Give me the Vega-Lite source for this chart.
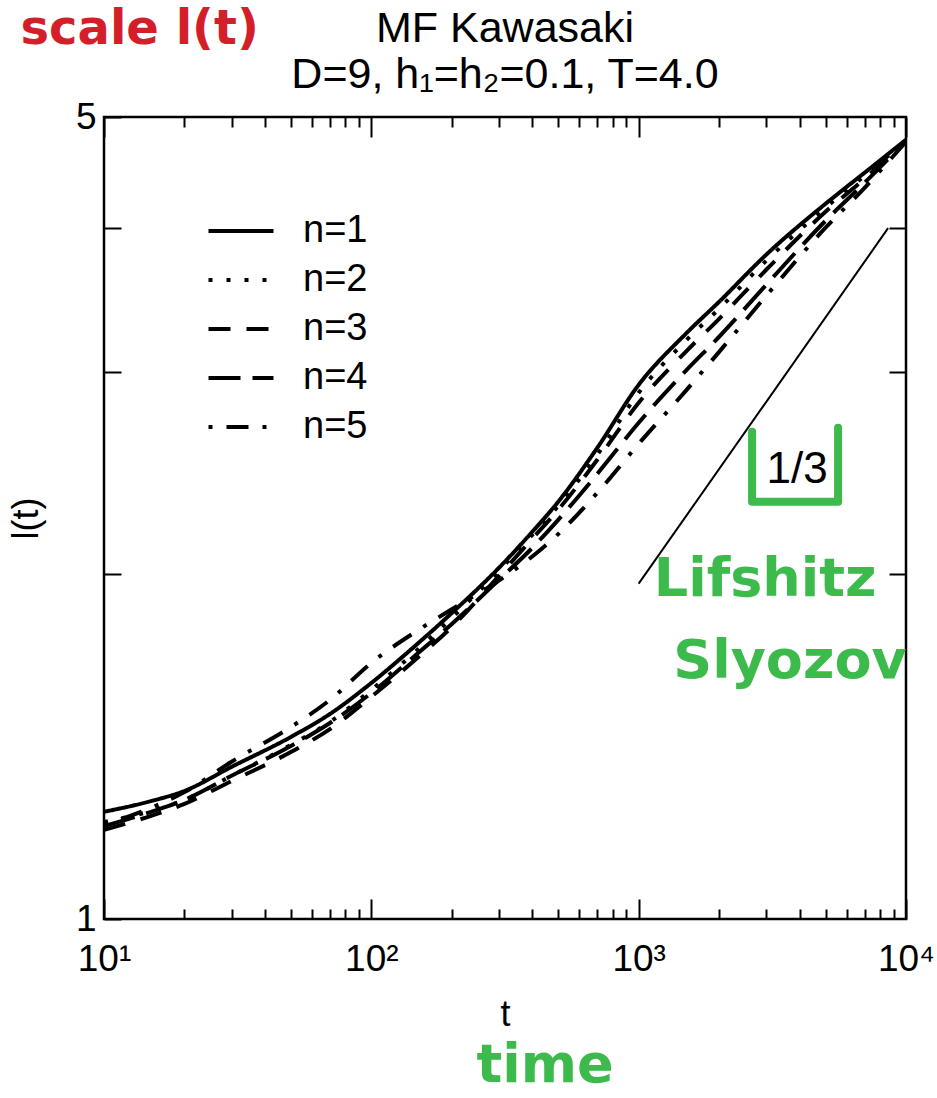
{
  "$schema": "https://vega.github.io/schema/vega-lite/v6.json",
  "width": 802,
  "height": 802,
  "autosize": {"type": "none"},
  "padding": {"left": 104, "top": 117, "right": 31, "bottom": 179},
  "background": "white",
  "config": {
    "view": {"stroke": "black", "strokeWidth": 2.5},
    "font": "Liberation Sans",
    "axis": {"labelColor": "black", "tickColor": "black", "titleColor": "black", "grid": false, "domain": false, "labelFont": "Liberation Sans", "titleFont": "Liberation Sans"}
  },
  "title": {
    "text": ["MF Kawasaki", "D=9, h₁=h₂=0.1, T=4.0"],
    "fontSize": 43,
    "fontWeight": "normal",
    "font": "Liberation Sans",
    "lineHeight": 46,
    "offset": 14,
    "dy": 105,
    "color": "black",
    "anchor": "middle"
  },
  "datasets": {
    "curves": [
      {"n": "n=1", "t": 10, "l": 1.240}, {"n": "n=1", "t": 15, "l": 1.267}, {"n": "n=1", "t": 20, "l": 1.293}, {"n": "n=1", "t": 30, "l": 1.357}, {"n": "n=1", "t": 50, "l": 1.441}, {"n": "n=1", "t": 70, "l": 1.509}, {"n": "n=1", "t": 100, "l": 1.606}, {"n": "n=1", "t": 150, "l": 1.740}, {"n": "n=1", "t": 200, "l": 1.848}, {"n": "n=1", "t": 300, "l": 2.023}, {"n": "n=1", "t": 400, "l": 2.175}, {"n": "n=1", "t": 500, "l": 2.310}, {"n": "n=1", "t": 700, "l": 2.574}, {"n": "n=1", "t": 1000, "l": 2.921}, {"n": "n=1", "t": 1500, "l": 3.236}, {"n": "n=1", "t": 2000, "l": 3.451}, {"n": "n=1", "t": 3000, "l": 3.793}, {"n": "n=1", "t": 5000, "l": 4.201}, {"n": "n=1", "t": 7000, "l": 4.471}, {"n": "n=1", "t": 10000, "l": 4.777},
      {"n": "n=2", "t": 10, "l": 1.215}, {"n": "n=2", "t": 15, "l": 1.242}, {"n": "n=2", "t": 20, "l": 1.270}, {"n": "n=2", "t": 30, "l": 1.333}, {"n": "n=2", "t": 50, "l": 1.418}, {"n": "n=2", "t": 70, "l": 1.485}, {"n": "n=2", "t": 100, "l": 1.584}, {"n": "n=2", "t": 150, "l": 1.719}, {"n": "n=2", "t": 200, "l": 1.830}, {"n": "n=2", "t": 300, "l": 2.011}, {"n": "n=2", "t": 400, "l": 2.162}, {"n": "n=2", "t": 500, "l": 2.291}, {"n": "n=2", "t": 700, "l": 2.538}, {"n": "n=2", "t": 1000, "l": 2.875}, {"n": "n=2", "t": 1500, "l": 3.191}, {"n": "n=2", "t": 2000, "l": 3.403}, {"n": "n=2", "t": 3000, "l": 3.747}, {"n": "n=2", "t": 5000, "l": 4.168}, {"n": "n=2", "t": 7000, "l": 4.444}, {"n": "n=2", "t": 10000, "l": 4.768},
      {"n": "n=3", "t": 10, "l": 1.196}, {"n": "n=3", "t": 15, "l": 1.230}, {"n": "n=3", "t": 20, "l": 1.260}, {"n": "n=3", "t": 30, "l": 1.319}, {"n": "n=3", "t": 50, "l": 1.398}, {"n": "n=3", "t": 70, "l": 1.464}, {"n": "n=3", "t": 100, "l": 1.562}, {"n": "n=3", "t": 150, "l": 1.692}, {"n": "n=3", "t": 200, "l": 1.797}, {"n": "n=3", "t": 300, "l": 1.991}, {"n": "n=3", "t": 400, "l": 2.145}, {"n": "n=3", "t": 500, "l": 2.273}, {"n": "n=3", "t": 700, "l": 2.513}, {"n": "n=3", "t": 1000, "l": 2.818}, {"n": "n=3", "t": 1500, "l": 3.121}, {"n": "n=3", "t": 2000, "l": 3.335}, {"n": "n=3", "t": 3000, "l": 3.680}, {"n": "n=3", "t": 5000, "l": 4.134}, {"n": "n=3", "t": 7000, "l": 4.417}, {"n": "n=3", "t": 10000, "l": 4.768},
      {"n": "n=4", "t": 10, "l": 1.205}, {"n": "n=4", "t": 15, "l": 1.240}, {"n": "n=4", "t": 20, "l": 1.270}, {"n": "n=4", "t": 30, "l": 1.333}, {"n": "n=4", "t": 50, "l": 1.415}, {"n": "n=4", "t": 70, "l": 1.482}, {"n": "n=4", "t": 100, "l": 1.574}, {"n": "n=4", "t": 150, "l": 1.706}, {"n": "n=4", "t": 200, "l": 1.808}, {"n": "n=4", "t": 300, "l": 1.975}, {"n": "n=4", "t": 400, "l": 2.106}, {"n": "n=4", "t": 500, "l": 2.228}, {"n": "n=4", "t": 700, "l": 2.443}, {"n": "n=4", "t": 1000, "l": 2.707}, {"n": "n=4", "t": 1500, "l": 3.004}, {"n": "n=4", "t": 2000, "l": 3.217}, {"n": "n=4", "t": 3000, "l": 3.571}, {"n": "n=4", "t": 5000, "l": 4.060}, {"n": "n=4", "t": 7000, "l": 4.382}, {"n": "n=4", "t": 10000, "l": 4.768},
      {"n": "n=5", "t": 10, "l": 1.208}, {"n": "n=5", "t": 15, "l": 1.250}, {"n": "n=5", "t": 20, "l": 1.290}, {"n": "n=5", "t": 30, "l": 1.371}, {"n": "n=5", "t": 50, "l": 1.470}, {"n": "n=5", "t": 70, "l": 1.552}, {"n": "n=5", "t": 100, "l": 1.672}, {"n": "n=5", "t": 150, "l": 1.786}, {"n": "n=5", "t": 200, "l": 1.862}, {"n": "n=5", "t": 300, "l": 1.972}, {"n": "n=5", "t": 400, "l": 2.070}, {"n": "n=5", "t": 500, "l": 2.165}, {"n": "n=5", "t": 700, "l": 2.352}, {"n": "n=5", "t": 1000, "l": 2.595}, {"n": "n=5", "t": 1500, "l": 2.886}, {"n": "n=5", "t": 2000, "l": 3.121}, {"n": "n=5", "t": 3000, "l": 3.493}, {"n": "n=5", "t": 5000, "l": 4.004}, {"n": "n=5", "t": 7000, "l": 4.338}, {"n": "n=5", "t": 10000, "l": 4.758}
    ],
    "refline": [{"t": 1000, "l": 1.96}, {"t": 8570, "l": 4.0}],
    "slope": [{"t": 3917, "l": 2.463, "label": "1/3"}],
    "bracket": [{"o": 1, "t": 2656, "l": 2.659}, {"o": 2, "t": 2656, "l": 2.31}, {"o": 3, "t": 5571, "l": 2.31}, {"o": 4, "t": 5571, "l": 2.68}],
    "green": [{"t": 2972, "l": 1.975, "label": "Lifshitz"}, {"t": 3681, "l": 1.675, "label": "Slyozov"}, {"t": 446.7, "l": 0.7447, "label": "time"}],
    "red": [{"t": 13.6, "l": 5.957, "label": "scale l(t)"}]
  },
  "layer": [
    {
      "data": {"name": "curves"},
      "mark": {"type": "line", "strokeWidth": 4, "color": "black", "clip": true, "interpolate": "monotone"},
      "encoding": {
        "x": {"field": "t", "type": "quantitative", "scale": {"type": "log", "domain": [10, 10000], "nice": false},
          "axis": {"orient": "bottom", "values": [10, 100, 1000, 10000], "labelExpr": "datum.value == 10 ? '10¹' : datum.value == 100 ? '10²' : datum.value == 1000 ? '10³' : '10⁴'", "tickSize": -20, "tickWidth": 2, "labelFontSize": 37, "labelPadding": 42, "labelFlush": false, "labelOverlap": false, "title": "t", "titleFontSize": 36, "titleFontWeight": "normal", "titlePadding": 20}},
        "y": {"field": "l", "type": "quantitative", "scale": {"type": "log", "domain": [1, 5], "nice": false},
          "axis": {"orient": "left", "values": [1, 2, 3, 4, 5], "labelExpr": "datum.value == 1 || datum.value == 5 ? datum.label : ''", "tickSize": -17, "tickWidth": 2, "labelFontSize": 37, "labelPadding": 25, "labelFlush": false, "labelOverlap": false, "title": "l(t)", "titleFontSize": 36, "titleFontWeight": "normal", "titlePadding": 30}},
        "strokeDash": {"field": "n", "type": "nominal",
          "scale": {"domain": ["n=1", "n=2", "n=3", "n=4", "n=5"], "range": [[1, 0], [4, 14], [22, 16], [32, 12], [4, 14, 22, 14]]},
          "legend": {"orient": "none", "legendX": 118, "legendY": 95, "title": null, "padding": 0, "symbolType": "M-2,0H2", "symbolSize": 1056, "symbolStrokeWidth": 4, "symbolStrokeColor": "black", "symbolFillColor": "transparent", "labelFontSize": 38, "labelFont": "Liberation Sans", "labelColor": "black", "labelOffset": 43, "rowPadding": 11}}
      }
    },
    {
      "data": {"name": "refline"},
      "mark": {"type": "line", "strokeWidth": 2, "color": "black"},
      "encoding": {
        "x": {"field": "t", "type": "quantitative", "axis": {"orient": "bottom", "values": [20, 30, 40, 50, 60, 70, 80, 90, 200, 300, 400, 500, 600, 700, 800, 900, 2000, 3000, 4000, 5000, 6000, 7000, 8000, 9000], "labels": false, "tickSize": -10, "tickWidth": 2, "title": null}},
        "y": {"field": "l", "type": "quantitative", "axis": {"orient": "right", "values": [2, 3, 4], "labels": false, "tickSize": -17, "tickWidth": 2, "title": null}}
      }
    },
    {
      "data": {"name": "slope"},
      "mark": {"type": "text", "fontSize": 44, "color": "black", "font": "Liberation Sans"},
      "encoding": {
        "x": {"field": "t", "type": "quantitative", "axis": {"orient": "top", "values": [10, 100, 1000, 10000], "labels": false, "tickSize": -20, "tickWidth": 2, "title": null}},
        "y": {"field": "l", "type": "quantitative", "axis": null},
        "text": {"field": "label"}
      }
    },
    {
      "data": {"name": "bracket"},
      "mark": {"type": "line", "strokeWidth": 8, "color": "#3cba4c", "strokeCap": "round", "strokeJoin": "round"},
      "encoding": {
        "x": {"field": "t", "type": "quantitative", "axis": {"orient": "top", "values": [20, 30, 40, 50, 60, 70, 80, 90, 200, 300, 400, 500, 600, 700, 800, 900, 2000, 3000, 4000, 5000, 6000, 7000, 8000, 9000], "labels": false, "tickSize": -10, "tickWidth": 2, "title": null}},
        "y": {"field": "l", "type": "quantitative", "axis": null},
        "order": {"field": "o"}
      }
    },
    {
      "data": {"name": "green"},
      "mark": {"type": "text", "fontSize": 54, "fontWeight": "bold", "color": "#3cba4c", "font": "DejaVu Sans"},
      "encoding": {
        "x": {"field": "t", "type": "quantitative", "axis": null},
        "y": {"field": "l", "type": "quantitative", "axis": null},
        "text": {"field": "label"}
      }
    },
    {
      "data": {"name": "red"},
      "mark": {"type": "text", "fontSize": 48, "fontWeight": "bold", "color": "#d41f2b", "font": "DejaVu Sans"},
      "encoding": {
        "x": {"field": "t", "type": "quantitative", "axis": null},
        "y": {"field": "l", "type": "quantitative", "axis": null},
        "text": {"field": "label"}
      }
    }
  ],
  "resolve": {"axis": {"x": "independent", "y": "independent"}}
}
